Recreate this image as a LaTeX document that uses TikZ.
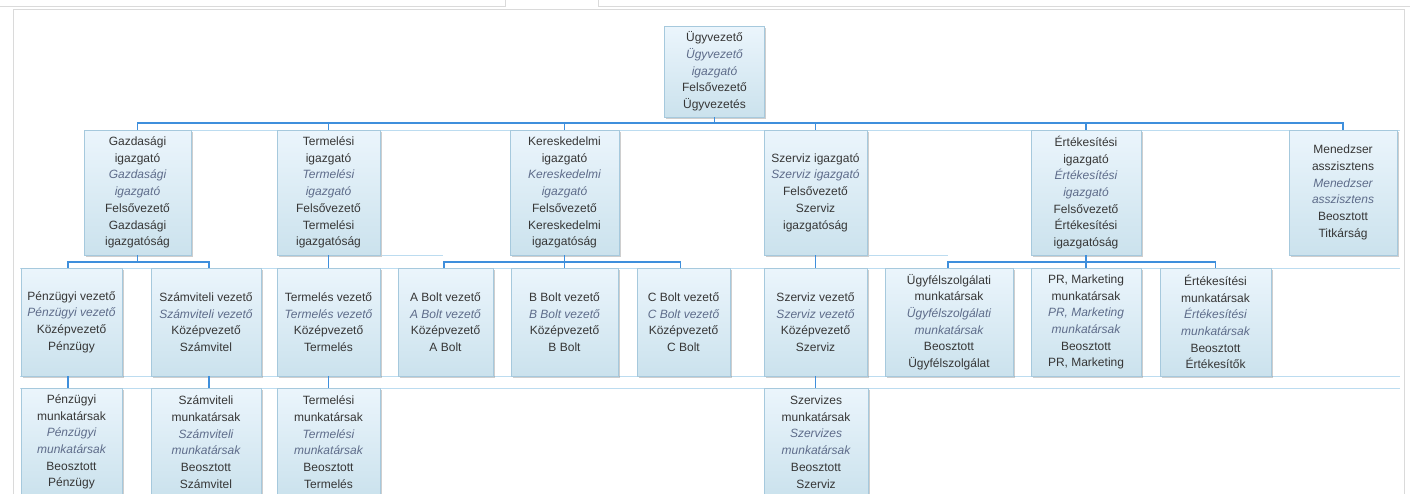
\documentclass[tikz,border=0pt]{standalone}
\usepackage{fontspec}
\setmainfont{Liberation Sans}
\usetikzlibrary{shadows}
\definecolor{connc}{HTML}{3F8FDC}
\definecolor{bandc}{HTML}{BCDCF0}
\definecolor{framec}{HTML}{DADADA}
\definecolor{boxtop}{HTML}{EBF5FC}
\definecolor{boxbot}{HTML}{CBE2ED}
\definecolor{boxline}{HTML}{A6C9DD}
\definecolor{txtc}{HTML}{363636}
\definecolor{itc}{HTML}{5E6C8A}
\newcommand{\ital}[1]{{\itshape\color{itc}#1}}
\begin{document}
\begin{tikzpicture}[x=1pt,y=-1pt,
  orgbox/.style={draw=boxline, line width=0.6pt, top color=boxtop, bottom color=boxbot,
    inner sep=0pt, align=center, text=txtc, font=\fontsize{12}{16.7}\selectfont,
    drop shadow={shadow xshift=1.6pt, shadow yshift=-1.6pt, opacity=0.35, fill=black!55}},
  rowA/.style={orgbox, minimum height=125pt},
  rowB/.style={orgbox, minimum height=108pt},
  conn/.style={draw=connc, line width=1.1pt},
  band/.style={draw=bandc, line width=0.9pt},
  frame/.style={draw=framec, line width=0.9pt}]
\useasboundingbox (0,0) rectangle (1410,493);
\clip (0,0) rectangle (1410,493);
\fill[white] (0,0) rectangle (1410,493);
% frames
\draw[frame] (0,6.5) -- (505,6.5) -- (505,0);
\draw[frame] (598,0) -- (598,6.5) -- (1410,6.5);
\draw[frame] (13,500) -- (13,9) -- (1404,9) -- (1404,500);
% bands
\draw[band] (84,130) -- (1400,130);
\draw[band] (382,255) -- (443,255);
\draw[band] (869,255) -- (948,255);
\draw[band] (20,268) -- (1400,268);
\draw[band] (20,376) -- (1400,376);
\draw[band] (20,388) -- (1400,388);
% bus coordinates
\coordinate (b1) at (0,123);
\coordinate (b2) at (0,262);
% row 0
\node[orgbox, minimum width=100pt, minimum height=91pt] (ceo) at (714.5,71.5)
  {Ügyvezető\\\ital{Ügyvezető}\\\ital{igazgató}\\Felsővezető\\Ügyvezetés};
% row 1
\node[rowA, minimum width=107pt] (gaz) at (137.5,192.5)
  {Gazdasági\\igazgató\\\ital{Gazdasági}\\\ital{igazgató}\\Felsővezető\\Gazdasági\\igazgatóság};
\node[rowA, minimum width=103pt] (ter) at (328.5,192.5)
  {Termelési\\igazgató\\\ital{Termelési}\\\ital{igazgató}\\Felsővezető\\Termelési\\igazgatóság};
\node[rowA, minimum width=109pt] (ker) at (564.5,192.5)
  {Kereskedelmi\\igazgató\\\ital{Kereskedelmi}\\\ital{igazgató}\\Felsővezető\\Kereskedelmi\\igazgatóság};
\node[rowA, minimum width=103pt] (szi) at (815.5,192.5)
  {Szerviz igazgató\\\ital{Szerviz igazgató}\\Felsővezető\\Szerviz\\igazgatóság};
\node[rowA, minimum width=110pt] (eri) at (1086,192.5)
  {Értékesítési\\igazgató\\\ital{Értékesítési}\\\ital{igazgató}\\Felsővezető\\Értékesítési\\igazgatóság};
\node[rowA, minimum width=108pt] (men) at (1343,192.5)
  {Menedzser\\asszisztens\\\ital{Menedzser}\\\ital{asszisztens}\\Beosztott\\Titkárság};
% row 2
\node[rowB, minimum width=101pt] (pv) at (71.5,322)
  {Pénzügyi vezető\\\ital{Pénzügyi vezető}\\Középvezető\\Pénzügy};
\node[rowB, minimum width=110pt] (sv) at (206,322)
  {Számviteli vezető\\\ital{Számviteli vezető}\\Középvezető\\Számvitel};
\node[rowB, minimum width=103pt] (tv) at (328.5,322)
  {Termelés vezető\\\ital{Termelés vezető}\\Középvezető\\Termelés};
\node[rowB, minimum width=95pt] (ab) at (445.5,322)
  {A Bolt vezető\\\ital{A Bolt vezető}\\Középvezető\\A Bolt};
\node[rowB, minimum width=107pt] (bb) at (564.5,322)
  {B Bolt vezető\\\ital{B Bolt vezető}\\Középvezető\\B Bolt};
\node[rowB, minimum width=93pt] (cb) at (683.5,322)
  {C Bolt vezető\\\ital{C Bolt vezető}\\Középvezető\\C Bolt};
\node[rowB, minimum width=103pt] (szv) at (815.5,322)
  {Szerviz vezető\\\ital{Szerviz vezető}\\Középvezető\\Szerviz};
\node[rowB, minimum width=128pt] (ugy) at (949,322)
  {Ügyfélszolgálati\\munkatársak\\\ital{Ügyfélszolgálati}\\\ital{munkatársak}\\Beosztott\\Ügyfélszolgálat};
\node[rowB, minimum width=110pt] (pr) at (1086,322)
  {PR, Marketing\\munkatársak\\\ital{PR, Marketing}\\\ital{munkatársak}\\Beosztott\\PR, Marketing};
\node[rowB, minimum width=111pt] (ert) at (1215.5,322)
  {Értékesítési\\munkatársak\\\ital{Értékesítési}\\\ital{munkatársak}\\Beosztott\\Értékesítők};
% row 3
\node[rowB, minimum width=101pt] (pm) at (71.5,442)
  {Pénzügyi\\munkatársak\\\ital{Pénzügyi}\\\ital{munkatársak}\\Beosztott\\Pénzügy};
\node[rowB, minimum width=110pt] (sm) at (206,442)
  {Számviteli\\munkatársak\\\ital{Számviteli}\\\ital{munkatársak}\\Beosztott\\Számvitel};
\node[rowB, minimum width=103pt] (tm) at (328.5,442)
  {Termelési\\munkatársak\\\ital{Termelési}\\\ital{munkatársak}\\Beosztott\\Termelés};
\node[rowB, minimum width=104pt] (szm) at (816,442)
  {Szervizes\\munkatársak\\\ital{Szervizes}\\\ital{munkatársak}\\Beosztott\\Szerviz};
% connectors row 0 -> 1
\foreach \c in {gaz,ter,ker,szi,eri,men}
  \draw[conn] (ceo.south) -- (ceo.south |- b1) -| (\c.north);
% connectors row 1 -> 2
\draw[conn] (gaz.south) -- (gaz.south |- b2) -| ([xshift=-3.5pt]pv.north);
\draw[conn] (gaz.south) -- (gaz.south |- b2) -| ([xshift=3pt]sv.north);
\draw[conn] (ter.south) -- (tv.north);
\draw[conn] (ker.south) -- (ker.south |- b2) -| ([xshift=-1.5pt]ab.north);
\draw[conn] (ker.south) -- (bb.north);
\draw[conn] (ker.south) -- (ker.south |- b2) -| ([xshift=-3pt]cb.north);
\draw[conn] (szi.south) -- (szv.north);
\draw[conn] (eri.south) -- (eri.south |- b2) -| ([xshift=-1pt]ugy.north);
\draw[conn] (eri.south) -- (pr.north);
\draw[conn] (eri.south) -- (eri.south |- b2) -| (ert.north);
% connectors row 2 -> 3
\draw[conn] ([xshift=-3.5pt]pv.south) -- ([xshift=-3.5pt]pm.north);
\draw[conn] ([xshift=3pt]sv.south) -- ([xshift=3pt]sm.north);
\draw[conn] (tv.south) -- (tm.north);
\draw[conn] (szv.south) -- ([xshift=-0.5pt]szm.north);
\end{tikzpicture}
\end{document}
